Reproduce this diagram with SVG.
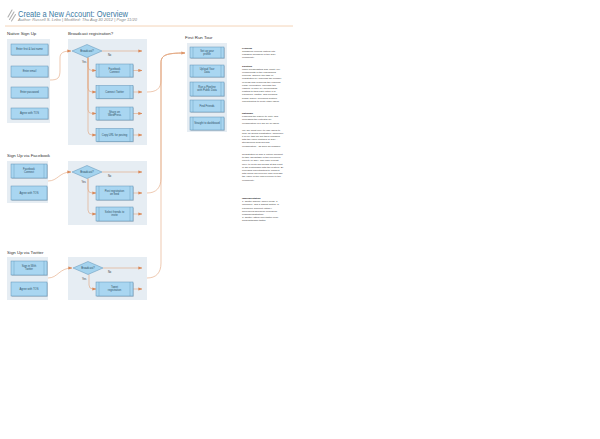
<svg xmlns="http://www.w3.org/2000/svg" width="600" height="439" viewBox="0 0 600 439">
  <defs>
    <marker id="arr" viewBox="0 0 6 6" refX="5.5" refY="3" markerWidth="4" markerHeight="4" orient="auto" markerUnits="userSpaceOnUse">
      <path d="M0,0.6 L6,3 L0,5.4 Z" fill="#d9895a"/>
    </marker>
    <style>
      .title { font-family: "Liberation Sans", Arial, sans-serif; font-size: 8.5px; fill: #3a7aa3; }
      .sub { font-family: "Liberation Sans", Arial, sans-serif; font-size: 3.2px; font-style: italic; fill: #8a8a8a; }
      .hdr { font-family: "Liberation Sans", Arial, sans-serif; font-size: 4.4px; fill: #333; }
      .panel { fill: #e6edf3; }
      .box { fill: #a9d6f1; stroke: #5f92b6; stroke-width: 0.5; }
      .shadow { fill: #8799a6; opacity: 0.6; }
      .bar { stroke: #5f92b6; stroke-width: 0.4; fill: none; }
      .dia { fill: #a4d3ee; stroke: #5f92b6; stroke-width: 0.5; }
      .bt { font-family: "Liberation Sans", Arial, sans-serif; font-size: 2.7px; fill: #2f4f63; text-anchor: middle; }
      .yn { font-family: "Liberation Sans", Arial, sans-serif; font-size: 2.6px; fill: #333; }
      .conn { fill: none; stroke: #e3a47c; stroke-width: 0.6; }
      .note { font-family: "Liberation Sans", Arial, sans-serif; font-size: 2.5px; fill: #3a3a3a; }
      .nh { font-weight: bold; fill: #222; }
    </style>
  </defs>

  <rect width="600" height="439" fill="#ffffff"/>

  <!-- header -->
  <g id="header">
    <g stroke="#b0b0b0" stroke-width="1.1" stroke-linecap="round">
      <line x1="8" y1="17" x2="12" y2="10"/>
      <line x1="9.5" y1="19.5" x2="14" y2="12"/>
      <line x1="11.5" y1="21" x2="15.5" y2="14.5"/>
    </g>
    <text class="title" x="18" y="16.5" textLength="110" lengthAdjust="spacingAndGlyphs">Create a New Account: Overview</text>
    <text class="sub" x="18" y="21.2" textLength="119" lengthAdjust="spacingAndGlyphs">Author: Russell S. Lebo  |  Modified: Thu Aug 30 2012  |  Page 11/20</text>
    <line x1="5" y1="26" x2="293" y2="26" stroke="#f1c9a6" stroke-width="0.8"/>
  </g>

  <!-- section labels -->
  <g id="labels">
    <text class="hdr" x="7" y="35">Native Sign Up</text>
    <text class="hdr" x="68" y="35">Broadcast registration?</text>
    <text class="hdr" x="185" y="38.5">First Run Tour</text>
    <text class="hdr" x="7" y="157">Sign Up via Facebook</text>
    <text class="hdr" x="7" y="254">Sign Up via Twitter</text>
  </g>

  <!-- swimlane panels -->
  <g id="panels">
    <rect class="panel" x="7" y="39" width="43" height="84"/>
    <rect class="panel" x="68" y="39" width="79" height="106"/>
    <rect class="panel" x="187" y="43" width="40" height="89"/>
    <rect class="panel" x="7" y="161" width="41" height="42"/>
    <rect class="panel" x="68" y="161" width="79" height="64"/>
    <rect class="panel" x="7" y="257" width="41" height="43"/>
    <rect class="panel" x="68" y="257" width="79" height="43"/>
  </g>

  <!-- connectors -->
  <g id="connectors">
    <!-- sign up lanes into broadcast decisions -->
    <path class="conn" d="M50,80 C58,80 60,78 60,70 L60,58 C60,53 63,51 71,51" marker-end="url(#arr)"/>
    <path class="conn" d="M48,181 C58,181 59,172 71,172" marker-end="url(#arr)"/>
    <path class="conn" d="M48,278 C58,278 59,268 72,268" marker-end="url(#arr)"/>

    <!-- native broadcast branches -->
    <path class="conn" d="M102,51 L142,51" marker-end="url(#arr)"/>
    <path class="conn" d="M88,57.5 L88,66.5 Q88,70.5 92,70.5 L96,70.5" marker-end="url(#arr)"/>
    <path class="conn" d="M88,57.5 L88,88 Q88,92 92,92 L96,92" marker-end="url(#arr)"/>
    <path class="conn" d="M88,57.5 L88,109.5 Q88,113.5 92,113.5 L96,113.5" marker-end="url(#arr)"/>
    <path class="conn" d="M88,57.5 L88,131 Q88,135 92,135 L96,135" marker-end="url(#arr)"/>
    <path class="conn" d="M133,70.5 L142,70.5" marker-end="url(#arr)"/>
    <path class="conn" d="M133,92 L142,92" marker-end="url(#arr)"/>
    <path class="conn" d="M133,113.5 L142,113.5" marker-end="url(#arr)"/>
    <path class="conn" d="M133,135 L142,135" marker-end="url(#arr)"/>

    <!-- facebook broadcast branches -->
    <path class="conn" d="M102,172 L142,172" marker-end="url(#arr)"/>
    <path class="conn" d="M88,178.5 L88,189 Q88,193 92,193 L96,193" marker-end="url(#arr)"/>
    <path class="conn" d="M88,178.5 L88,210 Q88,214 92,214 L96,214" marker-end="url(#arr)"/>
    <path class="conn" d="M133,193 L142,193" marker-end="url(#arr)"/>
    <path class="conn" d="M133,214 L142,214" marker-end="url(#arr)"/>

    <!-- twitter broadcast branches -->
    <path class="conn" d="M103,268 L142,268" marker-end="url(#arr)"/>
    <path class="conn" d="M89,274.5 L89,285 Q89,289 93,289 L96,289" marker-end="url(#arr)"/>
    <path class="conn" d="M133,289 L142,289" marker-end="url(#arr)"/>

    <!-- all lanes merge into the first run tour -->
    <path class="conn" d="M147,92 C156,92 161,89 161,80 L161,63 C161,55 166,53 185,53" marker-end="url(#arr)"/>
    <path class="conn" d="M147,193 C156,193 161,188 161,178 L161,63 C161,55 166,53 185,53"/>
    <path class="conn" d="M147,278 C156,278 161,273 161,263 L161,63 C161,55 166,53 185,53"/>
  </g>

  <!-- native sign up -->
  <g id="n-name"><rect class="shadow" x="11.7" y="44.7" width="37" height="11"/><rect class="box" x="11" y="44" width="37" height="11"/><text class="bt" x="29.5" y="50.4">Enter first &amp; last name</text></g>
  <g id="n-email"><rect class="shadow" x="11.7" y="66.7" width="37" height="11"/><rect class="box" x="11" y="66" width="37" height="11"/><text class="bt" x="29.5" y="72.4">Enter email</text></g>
  <g id="n-password"><rect class="shadow" x="11.7" y="87.7" width="37" height="11"/><rect class="box" x="11" y="87" width="37" height="11"/><text class="bt" x="29.5" y="93.4">Enter password</text></g>
  <g id="n-tos"><rect class="shadow" x="11.7" y="108.7" width="37" height="11"/><rect class="box" x="11" y="108" width="37" height="11"/><text class="bt" x="29.5" y="114.4">Agree with TOS</text></g>

  <!-- native broadcast -->
  <g id="n-broadcast"><path class="dia" d="M72,51 L87,44.5 L102,51 L87,57.5 Z"/><text class="bt" x="87" y="52">Broadcast?</text><text class="yn" x="108" y="55.5">No</text><text class="yn" x="82" y="62.5">Yes</text></g>
  <g id="n-fb"><rect class="shadow" x="96.7" y="64.7" width="37" height="13"/><rect class="box" x="96" y="64" width="37" height="13"/><path class="bar" d="M99,64 V77 M130,64 V77"/><text class="bt" x="114.5" y="69.8">Facebook<tspan x="114.5" dy="3">Connect</tspan></text></g>
  <g id="n-tw"><rect class="shadow" x="96.7" y="86.2" width="37" height="13"/><rect class="box" x="96" y="85.5" width="37" height="13"/><path class="bar" d="M99,85.5 V98.5 M130,85.5 V98.5"/><text class="bt" x="114.5" y="92.9">Connect Twitter</text></g>
  <g id="n-wp"><rect class="shadow" x="96.7" y="107.7" width="37" height="13"/><rect class="box" x="96" y="107" width="37" height="13"/><path class="bar" d="M99,107 V120 M130,107 V120"/><text class="bt" x="114.5" y="112.8">Share on<tspan x="114.5" dy="3">WordPress</tspan></text></g>
  <g id="n-url"><rect class="shadow" x="96.7" y="129.2" width="37" height="13"/><rect class="box" x="96" y="128.5" width="37" height="13"/><path class="bar" d="M99,128.5 V141.5 M130,128.5 V141.5"/><text class="bt" x="114.5" y="135.9">Copy URL for posting</text></g>

  <!-- first run tour -->
  <g id="t-profile"><rect class="shadow" x="190.7" y="47.7" width="34" height="11"/><rect class="box" x="190" y="47" width="34" height="11"/><path class="bar" d="M193,47 V58 M221,47 V58"/><text class="bt" x="207" y="51.8">Set up your<tspan x="207" dy="3">profile</tspan></text></g>
  <g id="t-upload"><rect class="shadow" x="190.7" y="65.7" width="34" height="12"/><rect class="box" x="190" y="65" width="34" height="12"/><path class="bar" d="M193,65 V77 M221,65 V77"/><text class="bt" x="207" y="70.3">Upload Your<tspan x="207" dy="3">Data</tspan></text></g>
  <g id="t-pipeline"><rect class="shadow" x="190.7" y="82.7" width="34" height="14"/><rect class="box" x="190" y="82" width="34" height="14"/><path class="bar" d="M193,82 V96 M221,82 V96"/><text class="bt" x="207" y="88.3">Run a Pipeline<tspan x="207" dy="3">with Public Data</tspan></text></g>
  <g id="t-friends"><rect class="shadow" x="190.7" y="100.7" width="34" height="12"/><rect class="box" x="190" y="100" width="34" height="12"/><path class="bar" d="M193,100 V112 M221,100 V112"/><text class="bt" x="207" y="106.9">Find Friends</text></g>
  <g id="t-dashboard"><rect class="shadow" x="190.7" y="117.7" width="34" height="13"/><rect class="box" x="190" y="117" width="34" height="13"/><path class="bar" d="M193,117 V130 M221,117 V130"/><text class="bt" x="207" y="124.4">Straight to dashboard</text></g>

  <!-- facebook sign up -->
  <g id="f-connect"><rect class="shadow" x="11.7" y="164.7" width="36" height="14"/><rect class="box" x="11" y="164" width="36" height="14"/><path class="bar" d="M14,164 V178 M44,164 V178"/><text class="bt" x="29" y="170.3">Facebook<tspan x="29" dy="3">Connect</tspan></text></g>
  <g id="f-tos"><rect class="shadow" x="11.7" y="186.7" width="36" height="14"/><rect class="box" x="11" y="186" width="36" height="14"/><text class="bt" x="29" y="193.9">Agree with TOS</text></g>
  <g id="f-broadcast"><path class="dia" d="M72,172 L87,165.5 L102,172 L87,178.5 Z"/><text class="bt" x="87" y="173">Broadcast?</text><text class="yn" x="108" y="177">No</text><text class="yn" x="81.5" y="183">Yes</text></g>
  <g id="f-feed"><rect class="shadow" x="96.7" y="186.7" width="37" height="14"/><rect class="box" x="96" y="186" width="37" height="14"/><path class="bar" d="M99,186 V200 M130,186 V200"/><text class="bt" x="114.5" y="192.3">Post registration<tspan x="114.5" dy="3">on feed</tspan></text></g>
  <g id="f-invite"><rect class="shadow" x="96.7" y="207.7" width="37" height="14"/><rect class="box" x="96" y="207" width="37" height="14"/><path class="bar" d="M99,207 V221 M130,207 V221"/><text class="bt" x="114.5" y="213.3">Select friends to<tspan x="114.5" dy="3">invite</tspan></text></g>

  <!-- twitter sign up -->
  <g id="w-signin"><rect class="shadow" x="11.7" y="261.7" width="36" height="14"/><rect class="box" x="11" y="261" width="36" height="14"/><path class="bar" d="M14,261 V275 M44,261 V275"/><text class="bt" x="29" y="267.3">Sign in With<tspan x="29" dy="3">Twitter</tspan></text></g>
  <g id="w-tos"><rect class="shadow" x="11.7" y="282.7" width="36" height="14"/><rect class="box" x="11" y="282" width="36" height="14"/><text class="bt" x="29" y="289.9">Agree with TOS</text></g>
  <g id="w-broadcast"><path class="dia" d="M73,268 L88,261.5 L103,268 L88,274.5 Z"/><text class="bt" x="88" y="269">Broadcast?</text><text class="yn" x="108" y="273">No</text><text class="yn" x="82" y="279.5">Yes</text></g>
  <g id="w-tweet"><rect class="shadow" x="96.7" y="282.7" width="37" height="14"/><rect class="box" x="96" y="282" width="37" height="14"/><path class="bar" d="M99,282 V296 M130,282 V296"/><text class="bt" x="114.5" y="288.3">Tweet<tspan x="114.5" dy="3">registration</tspan></text></g>

  <!-- notes column -->
  <g id="notes">
    <text class="note" x="242" y="48.5"><tspan class="nh">Problem</tspan>
      <tspan x="242" dy="3.2">Transform curious visitors into</tspan>
      <tspan x="242" dy="3.2">engaged members of the GSX</tspan>
      <tspan x="242" dy="3.2">community.</tspan></text>
    <text class="note" x="242" y="66.5"><tspan class="nh">Solution</tspan>
      <tspan x="242" dy="3.2">Make broadcasting and virality key</tspan>
      <tspan x="242" dy="3.2">components of the onboarding</tspan>
      <tspan x="242" dy="3.2">process. Simplify the task of</tspan>
      <tspan x="242" dy="3.2">registration by reducing the number</tspan>
      <tspan x="242" dy="3.2">of fields and removing the required</tspan>
      <tspan x="242" dy="3.2">email verification. Increase the</tspan>
      <tspan x="242" dy="3.2">visibility of GSX by encouraging</tspan>
      <tspan x="242" dy="3.2">posting to third party sites (e.g.</tspan>
      <tspan x="242" dy="3.2">Facebook, Twitter, and personal</tspan>
      <tspan x="242" dy="3.2">blogs) and by providing multiple</tspan>
      <tspan x="242" dy="3.2">opportunities to invite other users.</tspan></text>
    <text class="note" x="242" y="114"><tspan class="nh">Rationale</tspan>
      <tspan x="242" dy="3.2">Lowering the barrier to entry and</tspan>
      <tspan x="242" dy="3.2">increasing the potential for</tspan>
      <tspan x="242" dy="3.2">collaboration is a win for all users.</tspan></text>
    <text class="note" x="242" y="130.5">We are most likely to lose users to
      <tspan x="242" dy="3.2">drop off during registration. Therefore</tspan>
      <tspan x="242" dy="3.2">it is key that we get them engaged</tspan>
      <tspan x="242" dy="3.2">with the value features of GSX -</tspan>
      <tspan x="242" dy="3.2">streamlined analysis and</tspan>
      <tspan x="242" dy="3.2">collaboration - as soon as possible.</tspan></text>
    <text class="note" x="242" y="155">Registration is also a critical moment
      <tspan x="242" dy="3.2">to take advantage of the perceived</tspan>
      <tspan x="242" dy="3.2">novelty of GSX. The user is most</tspan>
      <tspan x="242" dy="3.2">likely to invite his friends at this point</tspan>
      <tspan x="242" dy="3.2">in his relationship with the system. By</tspan>
      <tspan x="242" dy="3.2">providing opportunities to connect</tspan>
      <tspan x="242" dy="3.2">with social services we also increase</tspan>
      <tspan x="242" dy="3.2">the value of the user's profile to the</tspan>
      <tspan x="242" dy="3.2">community.</tspan></text>
    <text class="note" x="242" y="199"><tspan class="nh">Implementation</tspan>
      <tspan x="242" dy="3.2">1. Twitter signup: Three fields, a</tspan>
      <tspan x="242" dy="3.2">checkbox, and a submit button.  2.</tspan>
      <tspan x="242" dy="3.2">Facebook Connect: https://</tspan>
      <tspan x="242" dy="3.2">developers.facebook.com/docs/</tspan>
      <tspan x="242" dy="3.2">plugins/registration/</tspan>
      <tspan x="242" dy="3.2">3. Twitter: https://dev.twitter.com/</tspan>
      <tspan x="242" dy="3.2">docs/auth/sign-twitter</tspan></text>
  </g>
</svg>
